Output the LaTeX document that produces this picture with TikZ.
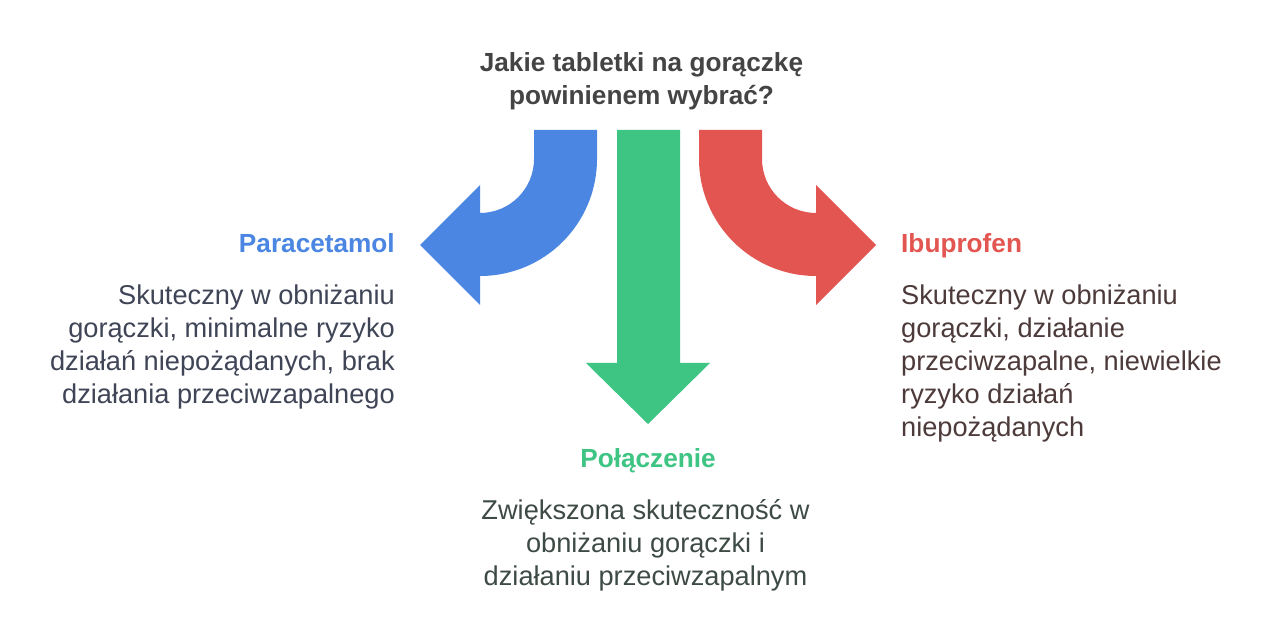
\documentclass[tikz,border=0pt]{standalone}
\usepackage{fontspec}
\setmainfont{Liberation Sans}
\definecolor{arrblue}{HTML}{4A86E2}
\definecolor{arrgreen}{HTML}{3EC483}
\definecolor{arrred}{HTML}{E35550}
\definecolor{titlegray}{HTML}{444444}
\definecolor{bodyblue}{HTML}{3F4556}
\definecolor{bodyred}{HTML}{4D3A3A}
\definecolor{bodygreen}{HTML}{3E4B45}
\tikzset{
  txt/.style={inner sep=0pt, font=\fontsize{27.2}{33}\selectfont},
  head/.style={inner sep=0pt, font=\fontsize{26.2}{33}\selectfont\bfseries},
}
\begin{document}
\begin{tikzpicture}[x=1pt,y=1pt]
\useasboundingbox[fill=white] (0,0) rectangle (1280,640);
% blue curved arrow (left)
\fill[arrblue] (534,510) -- (597,510) -- (597,481)
  arc[start angle=0,end angle=-90,radius=117]
  -- (480,335) -- (420,395) -- (480,455) -- (480,427)
  arc[start angle=-90,end angle=0,radius=54] -- cycle;
% red curved arrow (right)
\fill[arrred] (762,510) -- (699,510) -- (699,481)
  arc[start angle=180,end angle=270,radius=117]
  -- (816,335) -- (876,395) -- (816,455) -- (816,427)
  arc[start angle=270,end angle=180,radius=54] -- cycle;
% green straight arrow (down)
\fill[arrgreen] (617,510) -- (680,510) -- (680,277) -- (710,277)
  -- (648,216) -- (586,277) -- (617,277) -- cycle;
% texts (base anchor = baseline of the last line)
\node[head, text=titlegray, anchor=base, align=center] (title) at (641.5,535)
  {Jakie tabletki na gorączkę\\powinienem wybrać?};
\node[head, text=arrblue, anchor=base east] (para) at (395,387) {Paracetamol};
\node[txt, text=bodyblue, anchor=base east, align=right] (parabody) at (395,236)
  {Skuteczny w obniżaniu\\gorączki, minimalne ryzyko\\działań niepożądanych, brak\\działania przeciwzapalnego};
\node[head, text=arrred, anchor=base west] (ibu) at (901,387) {Ibuprofen};
\node[txt, text=bodyred, anchor=base west, align=left] (ibubody) at (901,203)
  {Skuteczny w obniżaniu\\gorączki, działanie\\przeciwzapalne, niewielkie\\ryzyko działań\\niepożądanych};
\node[head, text=arrgreen, anchor=base] (pol) at (648,172) {Połączenie};
\node[txt, text=bodygreen, anchor=base, align=center] (polbody) at (645.5,54)
  {Zwiększona skuteczność w\\obniżaniu gorączki i\\działaniu przeciwzapalnym};
\end{tikzpicture}
\end{document}
